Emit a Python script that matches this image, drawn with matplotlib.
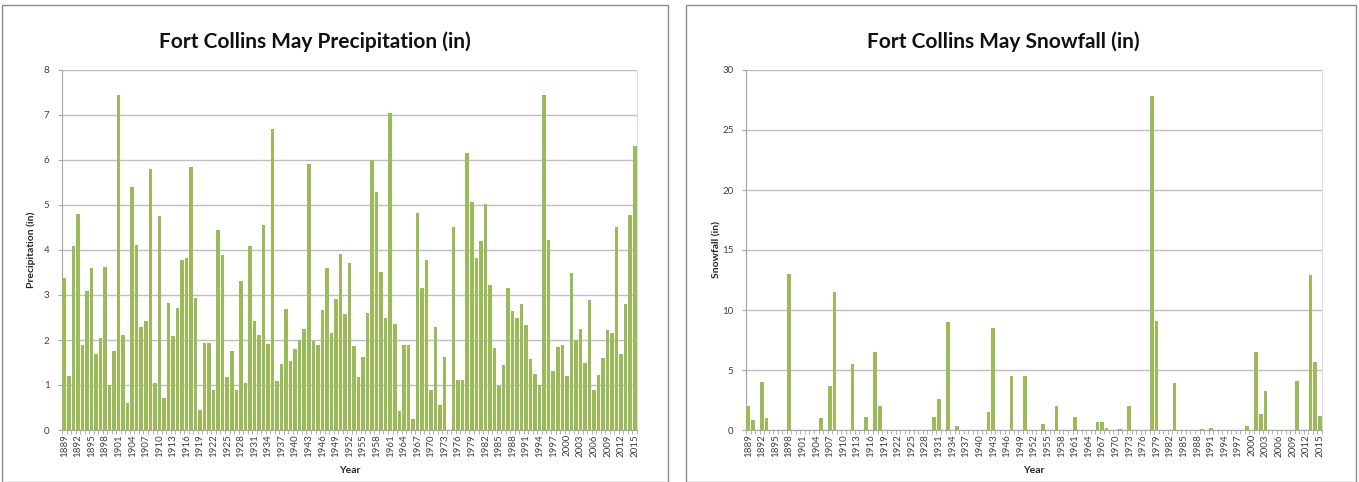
import matplotlib
matplotlib.use("Agg")
import matplotlib.pyplot as plt
from matplotlib.patches import Rectangle
import numpy as np

years = list(range(1889, 2016))

precip = [
    3.38, 1.20, 4.08, 4.80, 1.90, 3.08, 3.60, 1.68, 2.05, 3.63,
    1.00, 1.75, 7.45, 2.12, 0.60, 5.40, 4.12, 2.30, 2.42, 5.80,
    1.05, 4.75, 0.72, 2.83, 2.08, 2.72, 3.78, 3.83, 5.85, 2.93,
    0.45, 1.93, 1.93, 0.88, 4.45, 3.88, 1.17, 1.75, 0.88, 3.32,
    1.05, 4.08, 2.42, 2.12, 4.55, 1.92, 6.68, 1.10, 1.47, 2.68,
    1.53, 1.80, 2.00, 2.25, 5.92, 1.98, 1.88, 2.66, 3.60, 2.15,
    2.92, 3.90, 2.57, 3.71, 1.87, 1.17, 1.63, 2.60, 6.00, 5.28,
    3.52, 2.48, 7.05, 2.35, 0.42, 1.88, 1.88, 0.25, 4.82, 3.15,
    3.77, 0.90, 2.30, 0.55, 1.62, 0.00, 4.52, 1.12, 1.12, 6.15,
    5.07, 3.82, 4.20, 5.03, 3.22, 1.83, 0.98, 1.45, 3.15, 2.65,
    2.50, 2.80, 2.33, 1.58, 1.25, 1.00, 7.45, 4.22, 1.32, 1.85,
    1.90, 1.20, 3.48, 2.00, 2.25, 1.50, 2.90, 0.88, 1.22, 1.60,
    2.22, 2.15, 4.50, 1.68, 2.80, 4.77, 6.32,
]

snow = [
    2.0, 0.8, 0.0, 4.0, 1.0, 0.0, 0.0, 0.0, 0.0, 13.0,      # 1889-1898
    0.0, 0.0, 0.0, 0.0, 0.0, 0.0, 1.0, 0.0, 3.7, 11.5,      # 1899-1908
    0.0, 0.0, 0.0, 5.5, 0.0, 0.0, 1.05, 0.0, 6.5, 2.0,      # 1909-1918
    0.0, 0.0, 0.0, 0.0, 0.0, 0.0, 0.0, 0.0, 0.0, 0.0,       # 1919-1928
    0.0, 1.05, 2.6, 0.0, 9.0, 0.0, 0.35, 0.0, 0.0, 0.0,     # 1929-1938
    0.0, 0.0, 0.0, 1.5, 8.5, 0.0, 0.0, 0.0, 4.5, 0.0,       # 1939-1948
    0.0, 4.5, 0.0, 0.0, 0.0, 0.5, 0.0, 0.0, 2.0, 0.0,       # 1949-1958
    0.0, 0.0, 1.05, 0.0, 0.0, 0.0, 0.0, 0.7, 0.7, 0.15,     # 1959-1968
    0.0, 0.0, 0.1, 0.0, 2.0, 0.0, 0.0, 0.0, 0.0, 27.8,      # 1969-1978
    9.1, 0.0, 0.0, 0.0, 3.95, 0.0, 0.0, 0.0, 0.0, 0.0,      # 1979-1988
    0.1, 0.0, 0.15, 0.0, 0.0, 0.0, 0.0, 0.0, 0.0, 0.0,      # 1989-1998
    0.33, 0.0, 6.47, 1.3, 3.25, 0.0, 0.0, 0.0, 0.0, 0.0,    # 1999-2008
    0.0, 4.1, 0.0, 0.0, 12.9, 5.64, 1.2,                    # 2009-2015
]

tick_years = years[::3]

BAR = "#9BBB59"
GRID = "#BFBFBF"
AXC = "#A6A6A6"
FONT = ["Lato", "DejaVu Sans"]

plt.rcParams["font.family"] = FONT

W, H = 1359, 482
fig = plt.figure(figsize=(W / 100, H / 100), dpi=100)

# chart area frames
fig.patches.append(Rectangle((2 / W, 0), 666 / W, 477 / H, transform=fig.transFigure,
                             fill=False, edgecolor="#8C8C8C", lw=1.0))
fig.patches.append(Rectangle((686 / W, 0), 670 / W, 477 / H, transform=fig.transFigure,
                             fill=False, edgecolor="#8C8C8C", lw=1.0))


def panel(rect, vals, ymax, ystep, title, ylabel, title_x, ylab_x):
    ax = fig.add_axes(rect)
    ax.bar(years, vals, width=0.78, color=BAR, edgecolor="none", zorder=3)
    ax.set_xlim(years[0] - 0.5, years[-1] + 0.5)
    ax.set_ylim(0, ymax)
    ax.set_yticks(np.arange(0, ymax + 0.01, ystep))
    ax.yaxis.grid(True, color=GRID, lw=1.0, zorder=0)
    ax.set_axisbelow(True)
    ax.spines["top"].set_visible(False)
    ax.spines["right"].set_color("#D9DDE8")
    ax.spines["left"].set_color(AXC)
    ax.spines["bottom"].set_color(AXC)
    ax.set_xticks(tick_years)
    ax.set_xticklabels([str(y) for y in tick_years], rotation=90, fontsize=7,
                       color="#404040")
    ax.set_xticks(np.arange(years[0] - 0.5, years[-1] + 0.6, 1.0), minor=True)
    ax.tick_params(axis="x", which="major", length=0, pad=3)
    ax.tick_params(axis="x", which="minor", length=3, color=AXC, direction="out")
    ax.tick_params(axis="y", length=3, color=AXC, labelsize=7, labelcolor="#404040", pad=6)
    ax.set_xlabel("Year", fontsize=7.5, fontweight="bold", color="#262626")
    ax.xaxis.set_label_coords(0.5, -0.1)
    ax.set_ylabel(ylabel, fontsize=7.5, fontweight="bold", color="#262626")
    ax.yaxis.set_label_coords(ylab_x, 0.5)
    fig.text(title_x, 0.913, title, ha="center", va="center", fontsize=15,
             fontweight="bold", color="#111111")
    return ax


panel([62 / W, 52 / H, 575 / W, 360 / H], precip, 8, 1,
      "Fort Collins May Precipitation (in)", "Precipitation (in)",
      315 / W, -0.045)
panel([746 / W, 52 / H, 576 / W, 360 / H], snow, 30, 5,
      "Fort Collins May Snowfall (in)", "Snowfall (in)",
      1003 / W, -0.043)

fig.savefig("out.png", dpi=100)
